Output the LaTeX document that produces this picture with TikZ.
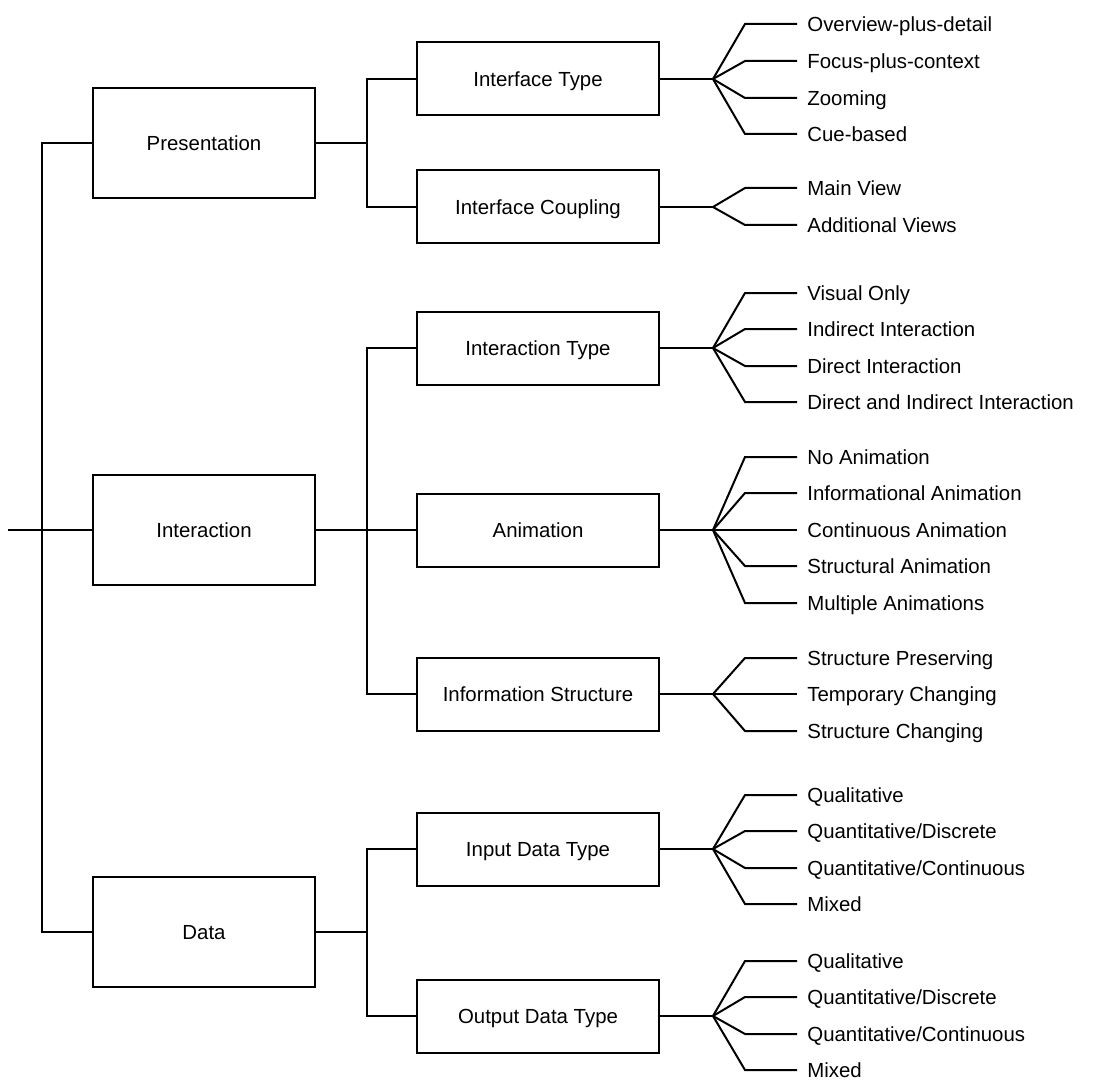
\documentclass[tikz,border=0pt]{standalone}
\usepackage{fontspec}
\setmainfont{Liberation Sans}
\usetikzlibrary{positioning,calc}

\tikzset{
  cat/.style={draw, line width=1pt, minimum width=111pt, minimum height=55pt,
    inner sep=0pt, text height=7.3pt, text depth=0pt},
  sub/.style={draw, line width=1pt, minimum width=121pt, minimum height=36.5pt,
    inner sep=0pt, text height=7.3pt, text depth=0pt},
  leaf/.style={anchor=west, inner xsep=5pt, inner ysep=0pt, text height=7.3pt, text depth=0pt},
  link/.style={line width=1pt},
}

\begin{document}
\begin{tikzpicture}[x=0.5pt, y=-0.5pt, font=\fontsize{10.2}{12}\selectfont]
    \useasboundingbox (0,0) rectangle (1115,1081);

    % first level
    \node[cat] (pres) at (204,143) {Presentation};
    \node[cat] (inter) at (204,530) {Interaction};
    \node[cat] (data) at (204,932) {Data};

    % second level
    \node[sub] (itype) at (538,79) {Interface Type};
    \node[sub] (icoup) at (538,207) {Interface Coupling};
    \node[sub] (xtype) at (538,348) {Interaction Type};
    \node[sub] (anim) at (538,530) {Animation};
    \node[sub] (istruct) at (538,694) {Information Structure};
    \node[sub] (indata) at (538,849) {Input Data Type};
    \node[sub] (outdata) at (538,1016) {Output Data Type};

    % leaves
    \node[leaf] (it1) at (797,24) {Overview-plus-detail};
    \node[leaf] (it2) at (797,61) {Focus-plus-context};
    \node[leaf] (it3) at (797,98) {Zooming};
    \node[leaf] (it4) at (797,134) {Cue-based};
    \node[leaf] (ic1) at (797,188) {Main View};
    \node[leaf] (ic2) at (797,225) {Additional Views};
    \node[leaf] (xt1) at (797,293) {Visual Only};
    \node[leaf] (xt2) at (797,329) {Indirect Interaction};
    \node[leaf] (xt3) at (797,366) {Direct Interaction};
    \node[leaf] (xt4) at (797,402) {Direct and Indirect Interaction};
    \node[leaf] (an1) at (797,457) {No Animation};
    \node[leaf] (an2) at (797,493) {Informational Animation};
    \node[leaf] (an3) at (797,530) {Continuous Animation};
    \node[leaf] (an4) at (797,566) {Structural Animation};
    \node[leaf] (an5) at (797,603) {Multiple Animations};
    \node[leaf] (is1) at (797,658) {Structure Preserving};
    \node[leaf] (is2) at (797,694) {Temporary Changing};
    \node[leaf] (is3) at (797,731) {Structure Changing};
    \node[leaf] (in1) at (797,795) {Qualitative};
    \node[leaf] (in2) at (797,831) {Quantitative/Discrete};
    \node[leaf] (in3) at (797,868) {Quantitative/Continuous};
    \node[leaf] (in4) at (797,904) {Mixed};
    \node[leaf] (out1) at (797,961) {Qualitative};
    \node[leaf] (out2) at (797,997) {Quantitative/Discrete};
    \node[leaf] (out3) at (797,1034) {Quantitative/Continuous};
    \node[leaf] (out4) at (797,1070) {Mixed};

    % junctions
    \coordinate (root) at (8,530);
    \coordinate (trunk) at (42,530);
    \coordinate (pj) at ([xshift=25.5pt]pres.east);
    \coordinate (ij) at ([xshift=25.5pt]inter.east);
    \coordinate (dj) at ([xshift=25.5pt]data.east);
    \coordinate (itf) at ([xshift=26.5pt]itype.east);
    \coordinate (icf) at ([xshift=26.5pt]icoup.east);
    \coordinate (xtf) at ([xshift=26.5pt]xtype.east);
    \coordinate (anf) at ([xshift=26.5pt]anim.east);
    \coordinate (isf) at ([xshift=26.5pt]istruct.east);
    \coordinate (inf) at ([xshift=26.5pt]indata.east);
    \coordinate (outf) at ([xshift=26.5pt]outdata.east);

    \path[draw,link]
    (root) -- (trunk)
    (trunk) |- (pres.west)
    (trunk) -- (inter.west)
    (trunk) |- (data.west)
    (pres.east) -- (pj)
    (pj) |- (itype.west)
    (pj) |- (icoup.west)
    (inter.east) -- (ij)
    (ij) |- (xtype.west)
    (ij) -- (anim.west)
    (ij) |- (istruct.west)
    (data.east) -- (dj)
    (dj) |- (indata.west)
    (dj) |- (outdata.west)
    (itype.east) -- (itf)
    (icoup.east) -- (icf)
    (xtype.east) -- (xtf)
    (anim.east) -- (anf)
    (istruct.east) -- (isf)
    (indata.east) -- (inf)
    (outdata.east) -- (outf)
    ;

    % fans
    \foreach \f/\l in {itf/it1,itf/it2,itf/it3,itf/it4,icf/ic1,icf/ic2,
      xtf/xt1,xtf/xt2,xtf/xt3,xtf/xt4,anf/an1,anf/an2,anf/an3,anf/an4,anf/an5,
      isf/is1,isf/is2,isf/is3,inf/in1,inf/in2,inf/in3,inf/in4,
      outf/out1,outf/out2,outf/out3,outf/out4}
      \draw[link] (\f) -- ([xshift=-26pt]\l.west) -- (\l.west);
\end{tikzpicture}
\end{document}
